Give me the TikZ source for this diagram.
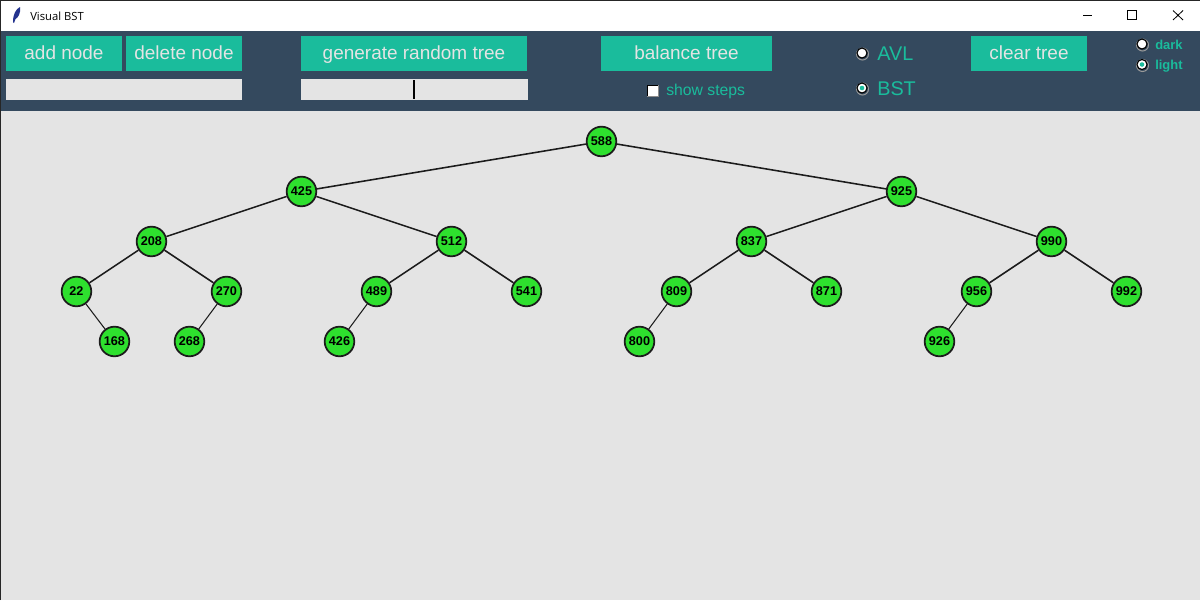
\documentclass[tikz,border=0pt]{standalone}
\usepackage{fontspec}
\setmainfont{Liberation Sans}
\newfontfamily\titlefont{Open Sans}
\usetikzlibrary{positioning}
\definecolor{cfpanel}{HTML}{34495E}
\definecolor{cfbutton}{HTML}{1ABC9C}
\definecolor{cfcanvas}{HTML}{E4E4E4}
\definecolor{cfleaf}{HTML}{2EE02E}
\definecolor{cfedge}{HTML}{1C1C1C}

\begin{document}
\begin{tikzpicture}[x=0.025cm, y=-0.025cm,
    btn/.style={fill=cfbutton, text=cfcanvas, inner sep=0pt, text height=12pt, text depth=2.8pt,
      font=\fontsize{13.5}{15}\selectfont},
    entrybox/.style={fill=cfcanvas},
    treenode/.style={circle, draw=cfedge, line width=1.25pt, fill=cfleaf, minimum size=0.74cm, inner sep=0pt,
      font=\fontsize{9}{11}\selectfont\bfseries},
    treeedge/.style={draw=cfedge, line width=1.1pt},
    radiolabel/.style={anchor=base west, inner sep=0pt, text=cfbutton},
    radiodot/.style={circle, draw=black, line width=0.8pt, fill=white, minimum size=0.25cm, inner sep=0pt}]
  \useasboundingbox (0,0) rectangle (1200,600);
  % window and panels
  \fill[white] (0,0) rectangle (1200,31);
  \fill[cfpanel] (0,31) rectangle (1200,111);
  \fill[cfcanvas] (0,111) rectangle (1200,600);
  \draw[black!85, line width=0.7pt] (0.5,600) -- (0.5,0.5) -- (1200,0.5);
  % title bar
  \fill[cfpanel!70!blue] (13,22) .. controls (13,14) and (16,9) .. (20,7)
     .. controls (21,13) and (18,18) .. (15.5,19) -- (14,23) -- cycle;
  \node[anchor=west, inner sep=0pt, font=\titlefont\fontsize{8}{10}\selectfont] (title) at (30,16) {Visual BST};
  \draw[black, line width=0.7pt] (1083,15.5) -- (1092,15.5);
  \draw[black, line width=0.7pt] (1127.5,10.5) rectangle (1136.5,19.5);
  \draw[black, line width=0.6pt] (1173,10.5) -- (1183,20) (1183,10.5) -- (1173,20);
  % buttons
  \foreach \nm/\xa/\xb/\lbl in {add/6/122/add node, del/126/242/delete node, gen/301/527/generate random tree,
      bal/601/772/balance tree, clr/971/1087/clear tree}
    \node[btn, minimum width=(\xb-\xa)*0.025cm, minimum height=0.875cm] (\nm) at ({(\xa+\xb)/2},53.5) {\lbl};
  % entries
  \fill[entrybox] (6,79) rectangle (242,100);
  \fill[entrybox] (301,79) rectangle (528,100);
  \draw[black, line width=0.8pt] (414,80) -- (414,99);
  % show steps
  \draw[black, fill=white, line width=0.7pt] (647,85) rectangle (658,96);
  \draw[black!45, line width=0.7pt] (647,96.5) -- (658.5,96.5) -- (658.5,85);
  \node[radiolabel, font=\fontsize{11.2}{14}\selectfont] (steps) at (666,95.5) {show steps};
  % tree type
  \draw[black!40, line width=0.7pt] (862.5,54) circle (6);
  \node[radiodot] (avl) at (862,53) {};
  \draw[black!40, line width=0.7pt] (862.5,89) circle (6);
  \node[radiodot] (bst) at (862,88) {};
  \fill[cfbutton] (bst) circle (2.3);
  \node[radiolabel, font=\fontsize{14.1}{16}\selectfont] (avllbl) at (877,60) {AVL};
  \node[radiolabel, font=\fontsize{14.1}{16}\selectfont] (bstlbl) at (877,95) {BST};
  % theme
  \draw[black!40, line width=0.7pt] (1142.5,45) circle (6);
  \node[radiodot] (dark) at (1142,44) {};
  \draw[black!40, line width=0.7pt] (1142.5,65.5) circle (6);
  \node[radiodot] (light) at (1142,64.5) {};
  \fill[cfbutton] (light) circle (2.3);
  \node[radiolabel, font=\fontsize{9.2}{11}\selectfont\bfseries] (darklbl) at (1155,49) {dark};
  \node[radiolabel, font=\fontsize{9.2}{11}\selectfont\bfseries] (lightlbl) at (1155,69) {light};
  % tree
  \foreach \nm/\px/\py in {588/601/141, 425/301/191, 925/901/191, 208/151/241, 512/451/241, 837/751/241,
      990/1051/241, 22/76/291, 270/226/291, 489/376/291, 541/526/291, 809/676/291, 871/826/291,
      956/976/291, 992/1126/291, 168/114/341, 268/189/341, 426/339/341, 800/639/341, 926/939/341}
    \node[treenode, xshift=0.012cm, yshift=-0.012cm] (n\nm) at (\px,\py) {\nm};
  \foreach \a/\b in {588/425, 588/925, 425/208, 425/512, 925/837, 925/990, 208/22, 208/270, 512/489, 512/541,
      837/809, 837/871, 990/956, 990/992}
    \draw[treeedge] (n\a) -- (n\b);
  \foreach \a/\b in {22/168, 270/268, 489/426, 809/800, 956/926}
    \draw[treeedge, line width=0.75pt] (n\a) -- (n\b);
\end{tikzpicture}
\end{document}
